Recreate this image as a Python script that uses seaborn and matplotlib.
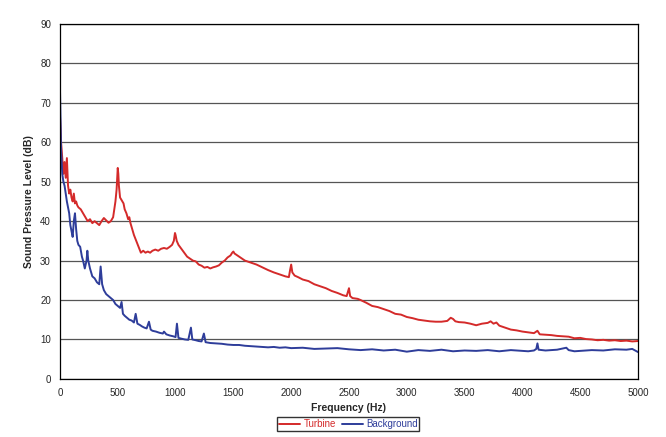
import pandas as pd
import matplotlib.pyplot as plt
import seaborn as sns

# Turbine spectrum (Hz, dB)
turbine_freq = [0, 10, 20, 30, 40, 50, 60, 70, 80, 90,
                100, 110, 120, 130, 140, 150, 160, 180, 200, 220,
                240, 260, 280, 300, 320, 340, 360, 380, 400, 420,
                440, 460, 470, 480, 490, 500, 505, 510, 520, 530,
                540, 550, 560, 575, 590, 600, 610, 625, 640, 660,
                680, 700, 720, 740, 760, 780, 800, 825, 850, 875,
                900, 925, 950, 970, 985, 995, 1000, 1010, 1025, 1050,
                1075, 1100, 1125, 1150, 1175, 1200, 1225, 1250, 1275, 1300,
                1325, 1350, 1375, 1400, 1425, 1450, 1475, 1490, 1500, 1510,
                1525, 1550, 1575, 1600, 1650, 1700, 1750, 1800, 1850, 1900,
                1950, 1980, 1990, 2000, 2010, 2030, 2060, 2100, 2150, 2200,
                2250, 2300, 2350, 2400, 2450, 2480, 2490, 2500, 2510, 2530,
                2575, 2600, 2650, 2700, 2750, 2800, 2850, 2900, 2950, 3000,
                3050, 3100, 3150, 3200, 3250, 3300, 3350, 3380, 3400, 3420,
                3450, 3500, 3550, 3600, 3650, 3700, 3725, 3750, 3775, 3800,
                3850, 3900, 3950, 4000, 4050, 4100, 4130, 4150, 4200, 4250,
                4300, 4350, 4400, 4450, 4500, 4550, 4600, 4650, 4700, 4750,
                4800, 4850, 4900, 4950, 5000]
turbine_db = [67, 60, 56, 52, 55, 51, 56, 49, 47, 48,
              46, 45, 47, 44.5, 45, 44, 43.5, 43, 42, 41,
              40, 40.5, 39.5, 40, 39.5, 39, 40, 40.8, 40.2, 39.6,
              40, 41, 43, 45, 48, 53.5, 52, 49, 46, 45.5,
              45, 44.5, 43, 42, 40.5, 41, 39.5, 38, 36.5, 35,
              33.5, 32, 32.5, 32, 32.3, 32, 32.5, 32.8, 32.5, 33,
              33.2, 33, 33.5, 34, 35, 37, 36.5, 35, 34, 33,
              32, 31, 30.5, 30, 29.8, 29, 28.7, 28.2, 28.4, 28,
              28.3, 28.5, 28.8, 29.5, 30, 30.8, 31.3, 32, 32.3, 31.8,
              31.5, 31, 30.5, 30, 29.5, 29, 28.3, 27.6, 27, 26.5,
              26, 25.8, 27.5, 29, 27, 26.2, 25.8, 25.2, 24.8, 24,
              23.5, 23, 22.3, 21.8, 21.2, 21, 22, 23, 21, 20.5,
              20.3, 20, 19.3, 18.5, 18.2, 17.7, 17.2, 16.5, 16.3, 15.7,
              15.4, 15, 14.8, 14.6, 14.5, 14.5, 14.7, 15.5, 15.2, 14.6,
              14.4, 14.3, 14, 13.6, 14, 14.2, 14.6, 14, 14.3, 13.5,
              13, 12.5, 12.3, 12, 11.8, 11.6, 12.2, 11.3, 11.2, 11.1,
              10.9, 10.8, 10.7, 10.3, 10.4, 10.1, 10, 9.8, 9.9, 9.7,
              9.8, 9.6, 9.7, 9.5, 9.6]

# Background spectrum
background_freq = [0, 10, 20, 30, 40, 50, 60, 70, 80, 90,
                   100, 110, 120, 130, 140, 150, 160, 175, 190, 200,
                   215, 230, 237, 245, 260, 280, 300, 320, 340, 352,
                   365, 380, 400, 420, 440, 460, 480, 500, 520, 533,
                   545, 560, 580, 600, 620, 640, 655, 670, 690, 710,
                   730, 750, 770, 785, 800, 830, 860, 890, 900, 920,
                   950, 980, 1000, 1012, 1025, 1050, 1080, 1110, 1133, 1145,
                   1175, 1200, 1225, 1245, 1260, 1300, 1350, 1400, 1450, 1500,
                   1550, 1600, 1650, 1700, 1750, 1800, 1850, 1900, 1950, 2000,
                   2100, 2200, 2300, 2400, 2500, 2600, 2700, 2800, 2900, 3000,
                   3100, 3200, 3300, 3400, 3500, 3600, 3700, 3800, 3900, 4000,
                   4050, 4100, 4120, 4130, 4140, 4200, 4300, 4380, 4400, 4450,
                   4500, 4600, 4700, 4800, 4900, 4950, 5000]
background_db = [74, 58, 52, 50, 49, 47, 45, 43.5, 42, 39,
                 37.5, 36, 40, 42, 38, 35, 34, 33.5, 31, 30,
                 28, 30, 32.5, 30, 28, 26, 25.5, 24.5, 24, 28.5,
                 24, 22.5, 21.5, 21, 20.5, 20, 19, 18.5, 18, 19.5,
                 16.5, 16, 15.5, 15, 14.8, 14.3, 16.5, 14, 13.7, 13.3,
                 13, 12.8, 14.5, 12.5, 12.2, 12, 11.7, 11.5, 12, 11.3,
                 11, 10.8, 10.6, 14, 10.4, 10.2, 10, 9.9, 13, 10,
                 9.8, 9.6, 9.5, 11.5, 9.3, 9.1, 9, 8.9, 8.7, 8.6,
                 8.6, 8.4, 8.3, 8.2, 8.1, 8, 8.1, 7.9, 8, 7.8,
                 7.9, 7.6, 7.7, 7.8, 7.5, 7.3, 7.5, 7.2, 7.4, 6.9,
                 7.3, 7.1, 7.4, 7.0, 7.2, 7.1, 7.3, 7.0, 7.3, 7.1,
                 7.0, 7.2, 7.6, 9, 7.4, 7.2, 7.4, 7.9, 7.3, 7.0,
                 7.1, 7.3, 7.2, 7.5, 7.4, 7.6, 6.8]

turbine = pd.DataFrame({"Frequency": turbine_freq, "SPL": turbine_db})
background = pd.DataFrame({"Frequency": background_freq, "SPL": background_db})

sns.set_style("white")
plt.rcParams['font.family'] = ['Liberation Sans', 'DejaVu Sans']

red = "#d42a2a"
blue = "#2e3d9a"

fig = plt.figure(figsize=(6.66, 4.37), dpi=100)
ax = fig.add_axes([0.090, 0.133, 0.868, 0.812])

sns.lineplot(data=turbine, x="Frequency", y="SPL", color=red, linewidth=1.4,
             label="Turbine", ax=ax)
sns.lineplot(data=background, x="Frequency", y="SPL", color=blue, linewidth=1.4,
             label="Background", ax=ax)

ax.set_xlim(0, 5000)
ax.set_ylim(0, 90)
ax.set_xticks(range(0, 5001, 500))
ax.set_yticks(range(0, 91, 10))
ax.yaxis.grid(True, color="#555555", linewidth=0.9)
ax.xaxis.grid(False)
for s in ax.spines.values():
    s.set_color("black")
    s.set_linewidth(0.9)
ax.tick_params(axis="both", labelsize=7, direction="out", length=3, color="black")
ax.set_xlabel("Frequency (Hz)", fontsize=7.5, fontweight="bold")
ax.set_ylabel("Sound Pressure Level (dB)", fontsize=7.5, fontweight="bold")

ax.legend_.remove()
leg = fig.legend(handles=ax.lines[:2], labels=["Turbine", "Background"],
                 loc="lower center", bbox_to_anchor=(0.523, 0.002), ncol=2,
                 fontsize=7, frameon=True, fancybox=False, edgecolor="black",
                 handlelength=2.2, handletextpad=0.3, columnspacing=0.6,
                 borderpad=0.2)
for txt, c in zip(leg.get_texts(), [red, blue]):
    txt.set_color(c)

fig.savefig("out.png", dpi=100)
